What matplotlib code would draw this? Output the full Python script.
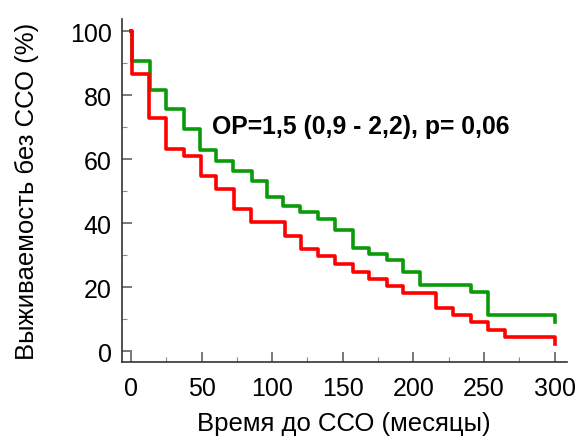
import matplotlib
matplotlib.use("Agg")
import matplotlib.pyplot as plt
from matplotlib.ticker import MultipleLocator

plt.rcParams['font.family'] = ['Liberation Sans', 'DejaVu Sans']

# step curves: time of each drop (months) and survival after it (%)
green_t = [0, 1, 13.5, 25, 37.5, 49, 60, 72.4, 85.4, 96.5, 107.8, 120, 132.6,
           144.4, 156.9, 168.7, 181, 192.7, 204.5, 240.4, 252.9, 300]
green_s = [100, 90.7, 81.7, 75.6, 69.4, 62.9, 59.5, 56.3, 53.3, 48.2, 45.3, 43.6, 41.2,
           37.9, 32.1, 30.5, 28.5, 24.8, 20.7, 18.5, 11.4, 9.1]

red_t = [0, 1, 13, 25, 37.5, 49.5, 60, 72.8, 85, 109, 120.5, 132.6, 144.4,
         156.9, 168.7, 181, 192.7, 216.3, 228, 240.4, 252.9, 264.7, 300]
red_s = [100, 86.6, 72.8, 63.1, 61, 54.6, 50.6, 44.5, 40.5, 36.1, 31.9, 29.6, 27.2,
         24.8, 22.5, 20.4, 18.1, 13.6, 11.3, 9, 6.7, 4.3, 2.2]

annot = "ОР=1,5 (0,9 - 2,2), p= 0,06"

fig = plt.figure(figsize=(5.79, 4.39), dpi=100)
ax = fig.add_axes([0.210, 0.173, 0.769, 0.781])

ax.step(green_t, green_s, where='post', color='#0a9a0a', lw=2.6)
ax.step(red_t, red_s, where='post', color='#ff0000', lw=2.6)

ax.set_xlim(-6.6, 308.6)
ax.set_ylim(-3.4, 103.7)

for side in ['top', 'right']:
    ax.spines[side].set_visible(False)
for side in ['left', 'bottom']:
    ax.spines[side].set_color('#333333')
    ax.spines[side].set_linewidth(1.2)

ax.xaxis.set_major_locator(MultipleLocator(50))
ax.xaxis.set_minor_locator(MultipleLocator(25))
ax.yaxis.set_major_locator(MultipleLocator(20))
ax.yaxis.set_minor_locator(MultipleLocator(10))
ax.tick_params(which='major', direction='in', length=7, width=1.1, color='#555555',
               labelsize=18)
ax.tick_params(axis='y', which='major', pad=7)
ax.tick_params(axis='x', which='major', pad=10)
ax.tick_params(which='minor', direction='in', length=3.5, width=0.8, color='#888888')

ax.set_xlabel("Время до ССО (месяцы)", fontsize=18.5, labelpad=8)
ax.set_ylabel("Выживаемость без ССО (%)", fontsize=18.5, labelpad=22)

ax.text(57.3, 70.3, annot, fontsize=17.8, fontweight='bold', ha='left', va='center')

fig.savefig("out.png", dpi=100)
